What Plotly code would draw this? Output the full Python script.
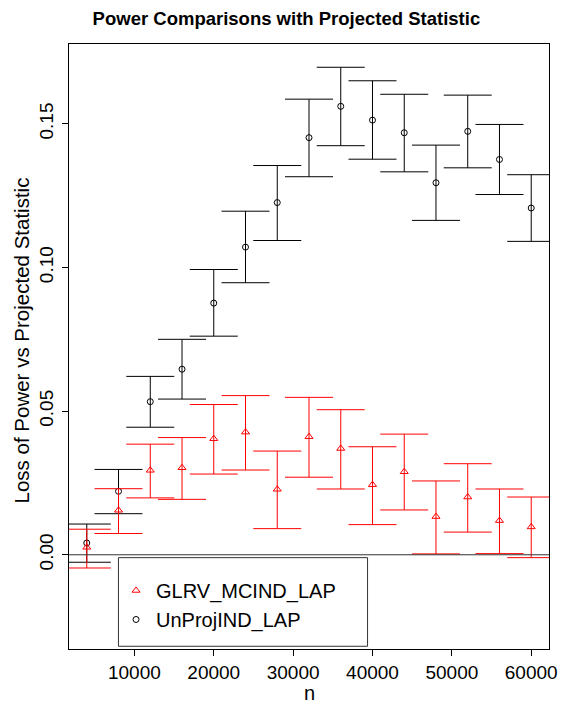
import plotly.graph_objects as go

# sample sizes
n = [4000, 8000, 12000, 16000, 20000, 24000, 28000, 32000,
     36000, 40000, 44000, 48000, 52000, 56000, 60000]

# UnProjIND_LAP: loss of power + CI bounds
unproj = [0.0041, 0.0221, 0.0533, 0.0646, 0.0876, 0.1071, 0.1226, 0.1452,
          0.1561, 0.1513, 0.1469, 0.1295, 0.1474, 0.1376, 0.1207]
unproj_hi = [0.0107, 0.0297, 0.0621, 0.0750, 0.0993, 0.1196, 0.1355, 0.1586,
             0.1697, 0.1650, 0.1603, 0.1426, 0.1600, 0.1498, 0.1323]
unproj_lo = [-0.0026, 0.0143, 0.0444, 0.0542, 0.0761, 0.0947, 0.1094, 0.1316,
             0.1424, 0.1377, 0.1333, 0.1164, 0.1347, 0.1254, 0.1091]

# GLRV_MCIND_LAP
glrv = [0.0026, 0.0155, 0.0294, 0.0303, 0.0404, 0.0427, 0.0228, 0.0411,
        0.0370, 0.0244, 0.0289, 0.0133, 0.0201, 0.0119, 0.0097]
glrv_hi = [0.0089, 0.0230, 0.0385, 0.0408, 0.0523, 0.0554, 0.0361, 0.0548,
           0.0505, 0.0376, 0.0420, 0.0257, 0.0317, 0.0229, 0.0201]
glrv_lo = [-0.0046, 0.0074, 0.0198, 0.0193, 0.0281, 0.0295, 0.0091, 0.0270,
           0.0229, 0.0105, 0.0156, 0.0003, 0.0079, 0.0004, -0.0010]

x_ticks = [10000, 20000, 30000, 40000, 50000, 60000]
y_ticks = [0.00, 0.05, 0.10, 0.15]

FONT = "Liberation Sans, Arial, Helvetica, sans-serif"
RED = "#FF0000"
BLACK = "#000000"


def err(vals, hi, lo, color):
    return dict(
        type="data",
        symmetric=False,
        array=[h - v for h, v in zip(hi, vals)],
        arrayminus=[v - l for v, l in zip(vals, lo)],
        color=color,
        thickness=1,
        width=24,
    )


fig = go.Figure()

fig.add_trace(go.Scatter(
    x=n, y=unproj, mode="markers", name="UnProjIND_LAP",
    marker=dict(symbol="circle-open", size=6, color=BLACK, line=dict(width=1)),
    error_y=err(unproj, unproj_hi, unproj_lo, BLACK), legendrank=2,
))

fig.add_trace(go.Scatter(
    x=n, y=glrv, mode="markers", name="GLRV_MCIND_LAP",
    marker=dict(symbol="triangle-up-open", size=7, color=RED, line=dict(width=1)),
    error_y=err(glrv, glrv_hi, glrv_lo, RED), legendrank=1,
))

fig.add_hline(y=0, line_color="#333333", line_width=1)

# legend frame (R style box)
fig.add_shape(type="rect", xref="paper", yref="paper",
              x0=0.103, x1=0.622, y0=0.0045, y1=0.151,
              line=dict(color="#333333", width=1), fillcolor="white", layer="below")

# axis titles placed like R's mtext
fig.add_annotation(text="n", xref="paper", yref="paper", x=0.5, y=-0.072,
                   xanchor="center", yanchor="middle", showarrow=False,
                   font=dict(size=20))
fig.add_annotation(text="Loss of Power vs Projected Statistic", xref="paper",
                   yref="paper", x=-0.1, y=0.51, xanchor="center",
                   yanchor="middle", textangle=-90, showarrow=False,
                   font=dict(size=20.5))

fig.update_layout(
    width=566, height=704,
    margin=dict(l=69, r=17, t=44, b=55),
    paper_bgcolor="white", plot_bgcolor="white",
    font=dict(family=FONT, size=19, color=BLACK),
    title=dict(text="<b>Power Comparisons with Projected Statistic</b>",
               x=0.506, xanchor="center", y=0.974, yanchor="middle",
               font=dict(size=18.5)),
    showlegend=True,
    legend=dict(x=0.098, xanchor="left", y=0.129, yanchor="top",
                bgcolor="rgba(0,0,0,0)", borderwidth=0,
                font=dict(size=20), traceorder="normal"),
    xaxis=dict(range=[1760, 62240], tickvals=x_ticks, tickformat="d",
               showgrid=False, zeroline=False, showline=True, mirror=True,
               linecolor=BLACK, linewidth=1, ticks="outside", ticklen=6,
               tickcolor=BLACK, automargin=False, tickfont=dict(size=19)),
    yaxis=dict(range=[-0.0328, 0.1778], tickvals=y_ticks, tickformat=".2f",
               tickangle=-90, showgrid=False, zeroline=False, showline=True,
               mirror=True, linecolor=BLACK, linewidth=1, ticks="outside",
               ticklen=6, tickcolor=BLACK, automargin=False,
               ticklabelstandoff=1, tickfont=dict(size=19)),
)

# drop the browser's default body margin so the figure sits at the page origin
fig.write_html("out.html", config={"displayModeBar": False},
               post_script="document.body.style.margin='0';")
